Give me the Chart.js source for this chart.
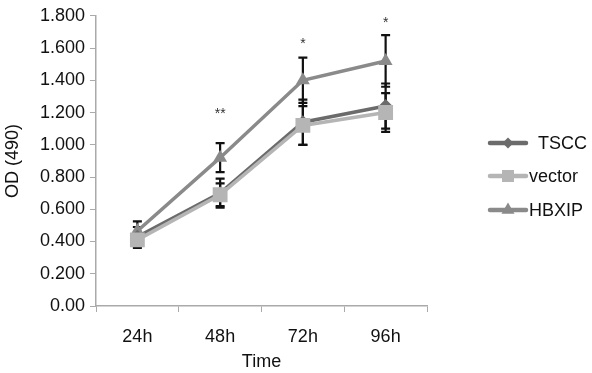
<!DOCTYPE html>
<html>
<head>
<meta charset="utf-8">
<script src="https://cdn.jsdelivr.net/npm/chart.js@4.4.1/dist/chart.umd.min.js"></script>
<style>
  html, body { margin: 0; padding: 0; background: #fff; }
  #wrap { width: 592px; height: 373px; }
</style>
</head>
<body>
<div id="wrap"><canvas id="myChart" width="592" height="373"></canvas></div>
<script>
const categories = ['24h', '48h', '72h', '96h'];
const seriesNames = ['TSCC', 'vector', 'HBXIP'];

const tsccValues = [0.43, 0.70, 1.14, 1.24];
const vectorValues = [0.41, 0.69, 1.12, 1.20];
const hbxipValues = [0.465, 0.92, 1.40, 1.52];

const tsccErrors = [0.06, 0.09, 0.14, 0.14];
const vectorErrors = [0.05, 0.07, 0.12, 0.12];
const hbxipErrors = [0.06, 0.09, 0.14, 0.16];

const sigLabels = ['', '**', '*', '*'];
const sigHeights = [null, 1.21, 1.64, 1.77];

const yTickLabels = ['0.00', '0.200', '0.400', '0.600', '0.800', '1.000', '1.200', '1.400', '1.600', '1.800'];

const FONT = 'Liberation Sans, Arial, Helvetica, sans-serif';
const errorSets = [tsccErrors, vectorErrors, hbxipErrors];

// black error bars, under the markers
const errorBars = {
  id: 'errorBars',
  beforeDatasetsDraw(chart) {
    const ctx = chart.ctx;
    const y = chart.scales.y;
    ctx.save();
    ctx.strokeStyle = '#111';
    ctx.lineWidth = 2.2;
    chart.data.datasets.forEach((ds, i) => {
      const meta = chart.getDatasetMeta(i);
      ds.data.forEach((v, j) => {
        const e = errorSets[i][j];
        const x = meta.data[j].x;
        const top = y.getPixelForValue(v + e);
        const bot = y.getPixelForValue(v - e);
        ctx.beginPath();
        ctx.moveTo(x, top); ctx.lineTo(x, bot);
        ctx.moveTo(x - 4.5, top); ctx.lineTo(x + 4.5, top);
        ctx.moveTo(x - 4.5, bot); ctx.lineTo(x + 4.5, bot);
        ctx.stroke();
      });
    });
    ctx.restore();
  }
};

// asterisks and a legend with line + marker, like the original
const legendRowY = [143, 176, 210];
const legendTextX = [538, 529, 529];

const extras = {
  id: 'extras',
  afterDraw(chart) {
    const ctx = chart.ctx;
    const x = chart.scales.x, y = chart.scales.y;
    ctx.save();
    ctx.fillStyle = '#333';
    ctx.font = '14px ' + FONT;
    ctx.textAlign = 'center';
    ctx.textBaseline = 'middle';
    sigLabels.forEach((s, j) => {
      if (!s) return;
      ctx.fillText(s, x.getPixelForValue(j), y.getPixelForValue(sigHeights[j]) + 3);
    });

    chart.data.datasets.forEach((ds, i) => {
      const cy = legendRowY[i];
      ctx.strokeStyle = ds.borderColor;
      ctx.lineWidth = 4.5;
      ctx.lineCap = 'round';
      ctx.beginPath();
      ctx.moveTo(490, cy); ctx.lineTo(526, cy);
      ctx.stroke();
      ctx.fillStyle = ds.borderColor;
      Chart.helpers.drawPoint(ctx, {
        pointStyle: ds.pointStyle,
        radius: ds.legendRadius,
        borderWidth: 0
      }, 508, cy);
      ctx.fillStyle = '#111';
      ctx.font = '18px ' + FONT;
      ctx.textAlign = 'left';
      ctx.fillText(seriesNames[i], legendTextX[i], cy + 1);
    });
    ctx.restore();
  }
};

function line(label, data, color, style, radius, legendRadius, order) {
  return {
    label: label,
    data: data,
    borderColor: color,
    backgroundColor: color,
    pointBackgroundColor: color,
    pointBorderColor: color,
    borderWidth: 3.5,
    pointStyle: style,
    pointRadius: radius,
    pointBorderWidth: 0,
    legendRadius: legendRadius,
    tension: 0,
    order: order
  };
}

new Chart(document.getElementById('myChart'), {
  type: 'line',
  data: {
    labels: categories,
    datasets: [
      line(seriesNames[0], tsccValues, '#6b6b6b', 'rectRot', 7, 5.5, 1),
      line(seriesNames[1], vectorValues, '#b5b5b5', 'rect', 10.5, 8.5, 0),
      line(seriesNames[2], hbxipValues, '#8a8a8a', 'triangle', 8, 7.5, 2)
    ]
  },
  options: {
    responsive: false,
    animation: false,
    layout: { padding: { top: 7, right: 165, left: 0, bottom: 0 } },
    plugins: { legend: { display: false }, tooltip: { enabled: false } },
    scales: {
      x: {
        offset: true,
        grid: { offset: true, drawOnChartArea: false, color: '#aaa', tickLength: 6 },
        border: { color: '#aaa', width: 1.5 },
        ticks: { color: '#111', font: { family: FONT, size: 18 }, padding: 14 },
        title: { display: true, text: 'Time', color: '#111', font: { family: FONT, size: 18 }, padding: { top: 1, bottom: 0 } },
        afterFit(s) { s.height = 67; }
      },
      y: {
        min: 0,
        max: 1.8,
        grid: { drawOnChartArea: false, color: '#aaa', tickLength: 6 },
        border: { color: '#aaa', width: 1.5 },
        ticks: {
          stepSize: 0.2,
          color: '#111',
          font: { family: FONT, size: 18 },
          padding: 5,
          callback: (v, i) => yTickLabels[i]
        },
        title: { display: true, text: 'OD (490)', color: '#111', font: { family: FONT, size: 18 }, padding: { top: 2, bottom: 2 } },
        afterFit(s) { s.width = 96; }
      }
    }
  },
  plugins: [errorBars, extras]
});
</script>
</body>
</html>
